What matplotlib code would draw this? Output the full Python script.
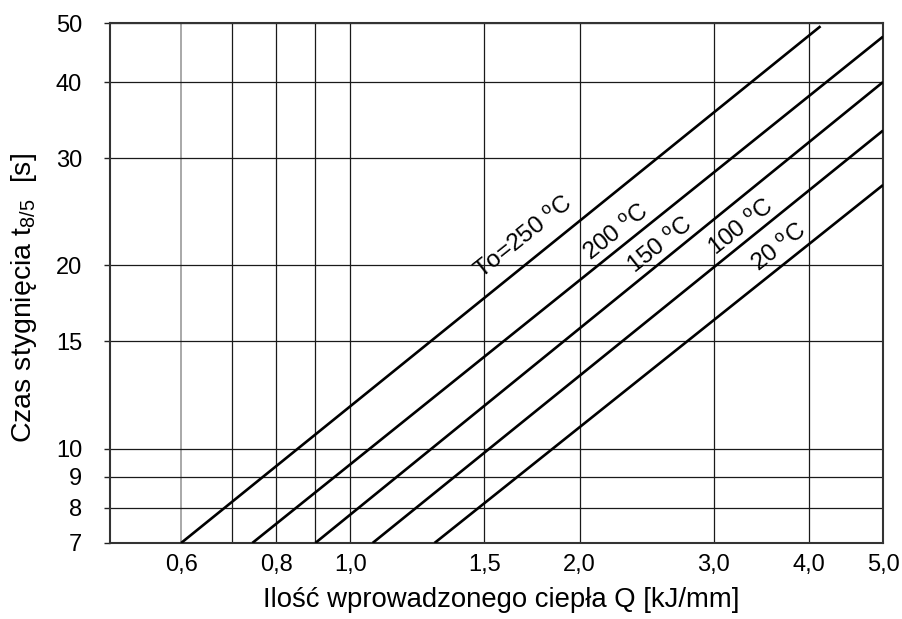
import numpy as np
import matplotlib
matplotlib.use("Agg")
import matplotlib.pyplot as plt
from matplotlib.ticker import NullLocator

plt.rcParams['font.family'] = ['Liberation Sans', 'DejaVu Sans']
plt.rcParams['mathtext.fontset'] = 'custom'
plt.rcParams['mathtext.rm'] = 'Liberation Sans'
plt.rcParams['mathtext.it'] = 'Liberation Sans:italic'

# cooling time t8/5 vs heat input Q, one line per preheat temperature
temps = ["To=250", "200", "150", "100", "20"]
q_start = [0.60, 0.744, 0.90, 1.07, 1.29]
t_start = [7.0, 7.0, 7.0, 7.0, 7.0]
q_end = [4.14, 5.0, 5.0, 5.0, 5.0]
t_end = [49.4, 47.5, 40.0, 33.3, 27.1]

x_ticks = [0.6, 0.7, 0.8, 0.9, 1.0, 1.5, 2.0, 3.0, 4.0, 5.0]
x_labels = ["0,6", "", "0,8", "", "1,0", "1,5", "2,0", "3,0", "4,0", "5,0"]
y_ticks = [7, 8, 9, 10, 15, 20, 30, 40, 50]
y_labels = ["7", "8", "9", "10", "15", "20", "30", "40", "50"]

# where the temperature labels sit (axes fraction)
label_pos = [(0.536, 0.587), (0.655, 0.597), (0.713, 0.572),
             (0.817, 0.606), (0.866, 0.567)]

fig = plt.figure(figsize=(9.03, 6.19), dpi=100)
ax = fig.add_axes([0.1218, 0.1228, 0.8561, 0.84])

ax.set_xscale('log')
ax.set_yscale('log')
ax.set_xlim(0.484, 5.0)
ax.set_ylim(7, 50)

ax.set_xticks(x_ticks)
ax.set_xticklabels(x_labels)
ax.set_yticks(y_ticks)
ax.set_yticklabels(y_labels)
ax.xaxis.set_minor_locator(NullLocator())
ax.yaxis.set_minor_locator(NullLocator())

ax.tick_params(axis='x', length=0, pad=8, labelsize=17)
ax.tick_params(axis='y', length=4, width=1.0, pad=16, labelsize=17, color='#222222')

ax.grid(True, color='#1a1a1a', linewidth=0.9)
ax.xaxis.get_gridlines()[0].set_color('#a8a8a8')
ax.xaxis.get_gridlines()[0].set_linewidth(1.4)

for s in ax.spines.values():
    s.set_color('#333333')
    s.set_linewidth(1.5)

for i in range(len(temps)):
    ax.plot([q_start[i], q_end[i]], [t_start[i], t_end[i]],
            color='black', linewidth=1.9, solid_capstyle='butt', zorder=3)
    ax.text(label_pos[i][0], label_pos[i][1], temps[i] + r" $^\mathrm{o}$C",
            transform=ax.transAxes, fontsize=17.5, rotation=38.5,
            rotation_mode='anchor', ha='center', va='center')

ax.set_xlabel("Ilość wprowadzonego ciepła Q [kJ/mm]", fontsize=19.8)
ax.set_ylabel(r"Czas stygnięcia t$_\mathrm{8/5}$  [s]", fontsize=20.5)
ax.xaxis.set_label_coords(0.506, -0.085)
ax.yaxis.set_label_coords(-0.092, 0.471)

plt.savefig("out.png", dpi=100)
